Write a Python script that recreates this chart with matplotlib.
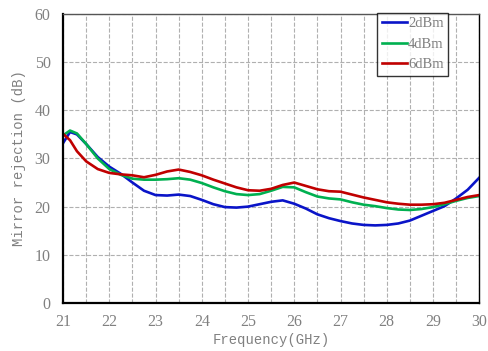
import matplotlib.pyplot as plt
from matplotlib.ticker import MultipleLocator

# mirror rejection vs frequency for three LO drive levels
freq = [21.0, 21.15, 21.3, 21.5, 21.75, 22.0, 22.25, 22.5, 22.75, 23.0,
        23.25, 23.5, 23.75, 24.0, 24.25, 24.5, 24.75, 25.0, 25.25, 25.5,
        25.75, 26.0, 26.25, 26.5, 26.75, 27.0, 27.25, 27.5, 27.75, 28.0,
        28.25, 28.5, 28.75, 29.0, 29.25, 29.5, 29.75, 30.0]

rej_2dbm = [33.2, 35.5, 35.0, 33.0, 30.3, 28.3, 26.8, 25.0, 23.3, 22.4,
            22.3, 22.5, 22.2, 21.4, 20.5, 19.9, 19.8, 20.0, 20.5, 21.0,
            21.3, 20.6, 19.6, 18.4, 17.6, 17.0, 16.5, 16.2, 16.1, 16.2,
            16.5, 17.1, 18.1, 19.1, 20.1, 21.7, 23.5, 26.0]

rej_4dbm = [34.8, 35.8, 35.2, 33.0, 30.0, 27.8, 26.6, 25.8, 25.6, 25.6,
            25.7, 25.9, 25.6, 24.9, 24.0, 23.2, 22.6, 22.4, 22.6, 23.3,
            24.1, 24.0, 23.0, 22.1, 21.7, 21.5, 20.9, 20.4, 20.1, 19.7,
            19.4, 19.3, 19.5, 19.9, 20.5, 21.2, 21.8, 22.2]

rej_6dbm = [35.1, 33.8, 31.5, 29.4, 27.8, 27.0, 26.7, 26.5, 26.1, 26.6,
            27.3, 27.7, 27.2, 26.5, 25.6, 24.8, 24.0, 23.4, 23.3, 23.7,
            24.5, 25.0, 24.3, 23.6, 23.2, 23.1, 22.5, 21.9, 21.4, 20.9,
            20.6, 20.4, 20.4, 20.5, 20.8, 21.4, 22.0, 22.4]

x_ticks = [21, 22, 23, 24, 25, 26, 27, 28, 29, 30]
y_ticks = [0, 10, 20, 30, 40, 50, 60]

plt.rcParams['font.family'] = ['Liberation Mono', 'DejaVu Sans']
gray = '#808080'
serif = ['Liberation Serif', 'DejaVu Serif']

fig = plt.figure(figsize=(4.89, 3.51), dpi=100)
ax = fig.add_axes([0.129, 0.137, 0.851, 0.823])

ax.plot(freq, rej_2dbm, color='#0a14c8', lw=1.9, label='2dBm')
ax.plot(freq, rej_4dbm, color='#00b050', lw=1.9, label='4dBm')
ax.plot(freq, rej_6dbm, color='#c00000', lw=1.9, label='6dBm')

ax.set_xlim(21, 30)
ax.set_ylim(0, 60)
ax.set_xticks(x_ticks)
ax.set_yticks(y_ticks)
ax.xaxis.set_minor_locator(MultipleLocator(0.5))
ax.tick_params(which='both', length=0, labelsize=11.5, labelcolor=gray)
ax.tick_params(axis='x', pad=8)
ax.tick_params(axis='y', pad=9)
for lbl in ax.get_xticklabels() + ax.get_yticklabels():
    lbl.set_family(serif)

ax.grid(True, which='major', axis='y', ls='--', lw=0.8, color='#b0b0b0')
ax.grid(True, which='both', axis='x', ls='--', lw=0.8, color='#b0b0b0')

ax.spines['left'].set_linewidth(1.6)
ax.spines['bottom'].set_linewidth(1.6)
ax.spines['right'].set_linewidth(1.0)
ax.spines['top'].set_linewidth(1.0)
ax.spines['top'].set_color('#555555')

ax.set_xlabel('Frequency(GHz)', fontsize=10, color=gray, labelpad=2)
ax.set_ylabel('Mirror rejection (dB)', fontsize=10, color=gray, labelpad=6)

leg = ax.legend(loc='upper right', bbox_to_anchor=(0.925, 1.005),
                prop={'family': serif, 'size': 10.5},
                frameon=True, fancybox=False, handlelength=1.7,
                handletextpad=0.1, borderpad=0.3, labelspacing=0.5,
                borderaxespad=0)
leg.get_frame().set_edgecolor('black')
leg.get_frame().set_linewidth(1.0)
for t in leg.get_texts():
    t.set_color(gray)

fig.savefig('out.png', dpi=100)
